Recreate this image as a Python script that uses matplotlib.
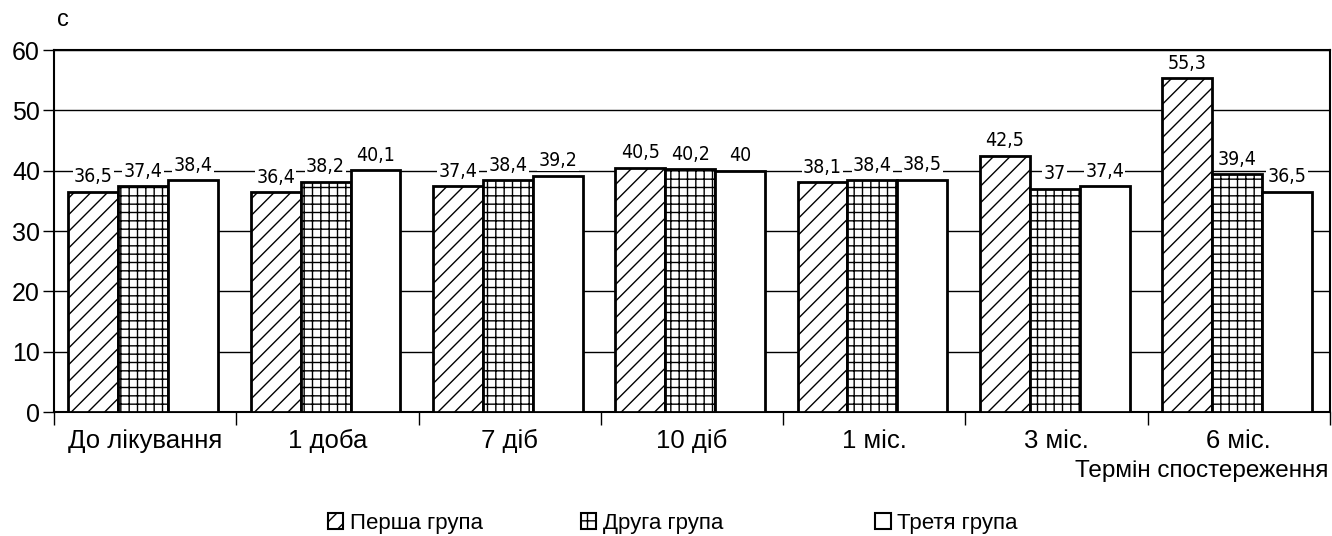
import numpy as np
import matplotlib
matplotlib.use('Agg')
import matplotlib.pyplot as plt
from matplotlib.patches import Patch

# DATA
TERMINY = ['До лікування', '1 доба', '7 діб', '10 діб', '1 міс.', '3 міс.', '6 міс.']
PERSHA = [36.5, 36.4, 37.4, 40.5, 38.1, 42.5, 55.3]
DRUGA = [37.4, 38.2, 38.4, 40.2, 38.4, 37.0, 39.4]
TRETYA = [38.4, 40.1, 39.2, 40.0, 38.5, 37.4, 36.5]
NAZVY = ['Перша група', 'Друга група', 'Третя група']

MAIN_FONT = ['Liberation Sans', 'DejaVu Sans']

plt.rcParams['font.family'] = MAIN_FONT
plt.rcParams['hatch.linewidth'] = 1.0

fig = plt.figure(figsize=(13.32, 5.36), dpi=100)
ax = fig.add_axes([0.0405, 0.2313, 0.958, 0.6754])

x = np.arange(len(TERMINY))
W = 0.274
styles = [('//', PERSHA), ('++', DRUGA), ('', TRETYA)]

for i, (hatch, vals) in enumerate(styles):
    pos = x + (i - 1) * W - 0.01
    ax.bar(pos, vals, width=W, color='white', edgecolor='black',
           linewidth=2, hatch=hatch, zorder=3)
    for xp, v in zip(pos, vals):
        txt = ('%g' % v).replace('.', ',')
        ax.text(xp, v + 0.9, txt, ha='center', va='bottom', fontsize=14,
                family='DejaVu Sans', fontstretch='condensed', zorder=4,
                bbox=dict(facecolor='white', edgecolor='none', pad=1.0))

ax.set_ylim(0, 60)
ax.set_xlim(-0.5, len(TERMINY) - 0.5)
ax.set_yticks(np.arange(0, 61, 10))
ax.yaxis.grid(True, color='black', linewidth=1)
ax.set_axisbelow(True)

ax.set_xticks(x)
ax.set_xticklabels(TERMINY, fontsize=18.5)
ax.set_xticks(np.arange(-0.5, len(TERMINY)), minor=True)
ax.tick_params(axis='x', which='major', length=0, pad=12)
ax.tick_params(axis='x', which='minor', length=9.5, width=1, direction='out')
ax.tick_params(axis='y', labelsize=18, length=8, width=1, pad=2)

for s in ax.spines.values():
    s.set_linewidth(1.5)
    s.set_color('black')

fig.text(0.047, 0.962, 'с', fontsize=17, ha='center', va='center')
fig.text(0.997, 0.121, 'Термін спостереження', fontsize=17.5,
         ha='right', va='center')

# legend entries spread along the bottom
leg_x = [0.246, 0.436, 0.657]
for (h, _), name, lx in zip(styles, NAZVY, leg_x):
    handle = Patch(facecolor='white', edgecolor='black', hatch=h,
                   linewidth=1.5)
    fig.legend([handle], [name], loc='center left',
               bbox_to_anchor=(lx, 0.024), frameon=False, fontsize=16,
               handlelength=0.7, handleheight=0.7, handletextpad=0.3,
               borderaxespad=0, borderpad=0)

plt.savefig('out.png', dpi=100)
